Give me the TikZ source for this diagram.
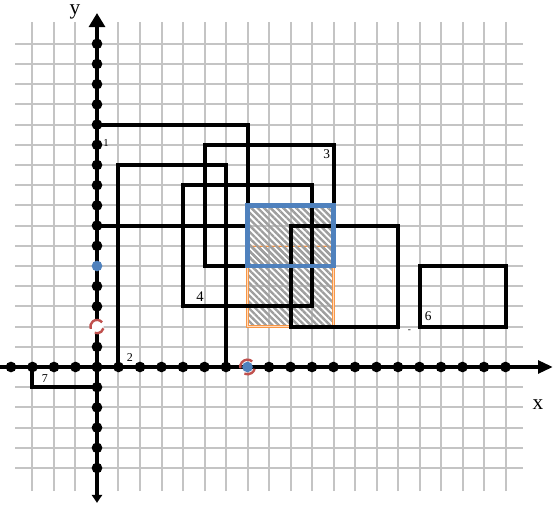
\documentclass[tikz,border=0pt]{standalone}
\usepackage{fontspec}
\setmainfont{Liberation Serif}
\usetikzlibrary{arrows.meta,patterns.meta}
\definecolor{gridgray}{HTML}{C4C4C4}
\definecolor{boxblue}{HTML}{4F81BD}
\definecolor{boxorange}{HTML}{F79646}
\definecolor{dotblue}{HTML}{4F81BD}
\definecolor{arcred}{HTML}{C0504D}
\definecolor{hatchgray}{HTML}{9E9E9E}
\tikzset{
  gridline/.style={draw=gridgray,line width=1.5pt},
  rectline/.style={draw=black,line width=3pt},
  axisline/.style={draw=black,line width=2.4pt},
  bdot/.style={circle,fill=black,inner sep=0pt,minimum size=8pt},
  bluedot/.style={circle,fill=dotblue,inner sep=0pt,minimum size=8pt},
  opendot/.style={circle,fill=white,inner sep=0pt,minimum size=10pt},
  redarc/.style={draw=arcred,line width=1.8pt},
  lbl/.style={inner sep=0pt,font=\fontsize{#1}{#1}\selectfont},
  hatch/.style={pattern={Lines[angle=-45,distance=3.4pt,line width=1.8pt]},pattern color=hatchgray},
}
\begin{document}
\begin{tikzpicture}[x=16.125pt,y=15.15pt]
\useasboundingbox (-4.5116,-6.980) rectangle (21.3953,18.1683);
\fill[white] (-4.5116,-6.980) rectangle (21.3953,18.1683);
% grid
\foreach \i in {-3,...,19} \draw[gridline] (\i,-6.15) -- (\i,17.1);
\foreach \j in {-5,...,16} \draw[gridline] (-3.8,\j) -- (19.8,\j);
% hatched boxes
\path[hatch] (7,2) rectangle (11,6);
\draw[boxorange,line width=0.6pt,double=boxorange!35,double distance=0.6pt] (7,2) rectangle (11,6);
\path[hatch] (7,5) rectangle (11,8);
% rectangles
\draw[rectline] (0,7) rectangle (7,12);
\draw[rectline] (1,0) rectangle (6,10);
\draw[rectline] (5,5) rectangle (11,11);
\draw[rectline] (4,3) rectangle (10,9);
\draw[rectline] (9,2) rectangle (14,7);
\draw[rectline] (15,2) rectangle (19,5);
\draw[rectline] (-3,-1) rectangle (0,0);
\draw[boxblue,line width=3.2pt] (7,5) rectangle (11,8);
% labels
\node[lbl=8pt] (l1) at (0.42,11.09) {1};
\node[lbl=9pt] (l2) at (1.53,0.45) {2};
\node[lbl=10pt] (l3) at (10.68,10.54) {3};
\node[lbl=11pt] (l4) at (4.79,3.47) {4};
\node[lbl=10pt] (l6) at (15.40,2.52) {6};
\node[lbl=9pt] (l7) at (-2.42,-0.59) {7};
\node[lbl=7pt] (l5) at (14.53,1.75) {-};
\node[lbl=16pt] (ly) at (-1.02,17.57) {y};
\node[lbl=16pt] (lx) at (20.51,-1.88) {x};
% axes
\coordinate (xs) at (-4.52,0);
\coordinate (xe) at (21.2,0);
\coordinate (ys) at (0,-6.73);
\coordinate (ye) at (0,17.52);
\draw[axisline,-{Triangle[length=11pt,width=9.5pt]}] (xs) -- (xe);
\draw[axisline,{Triangle[length=6pt,width=7.5pt]}-{Triangle[length=10.5pt,width=12pt]}] (ys) -- (ye);
% dots
\foreach \i in {-4,...,6,8,9,...,19} \node[bdot] (xd\i) at (\i,0) {};
\foreach \j in {-5,...,1,3,4,6,7,...,16} \node[bdot] (yd\j) at (0,\j) {};
\node[bluedot] (yb) at (0,5) {};
\node[opendot] (yo) at (0,2) {};
\draw[redarc] (yo.center) ++(40:5pt) arc (40:200:5pt);
\draw[redarc] (yo.center) ++(250:5pt) arc (250:345:5pt);
\draw[redarc] (7,0) ++(50:5.5pt) arc (50:190:5.5pt);
\draw[redarc] (7,0) ++(245:5.5pt) arc (245:345:5.5pt);
\node[bluedot] (xb) at (7,0) {};
\end{tikzpicture}
\end{document}
